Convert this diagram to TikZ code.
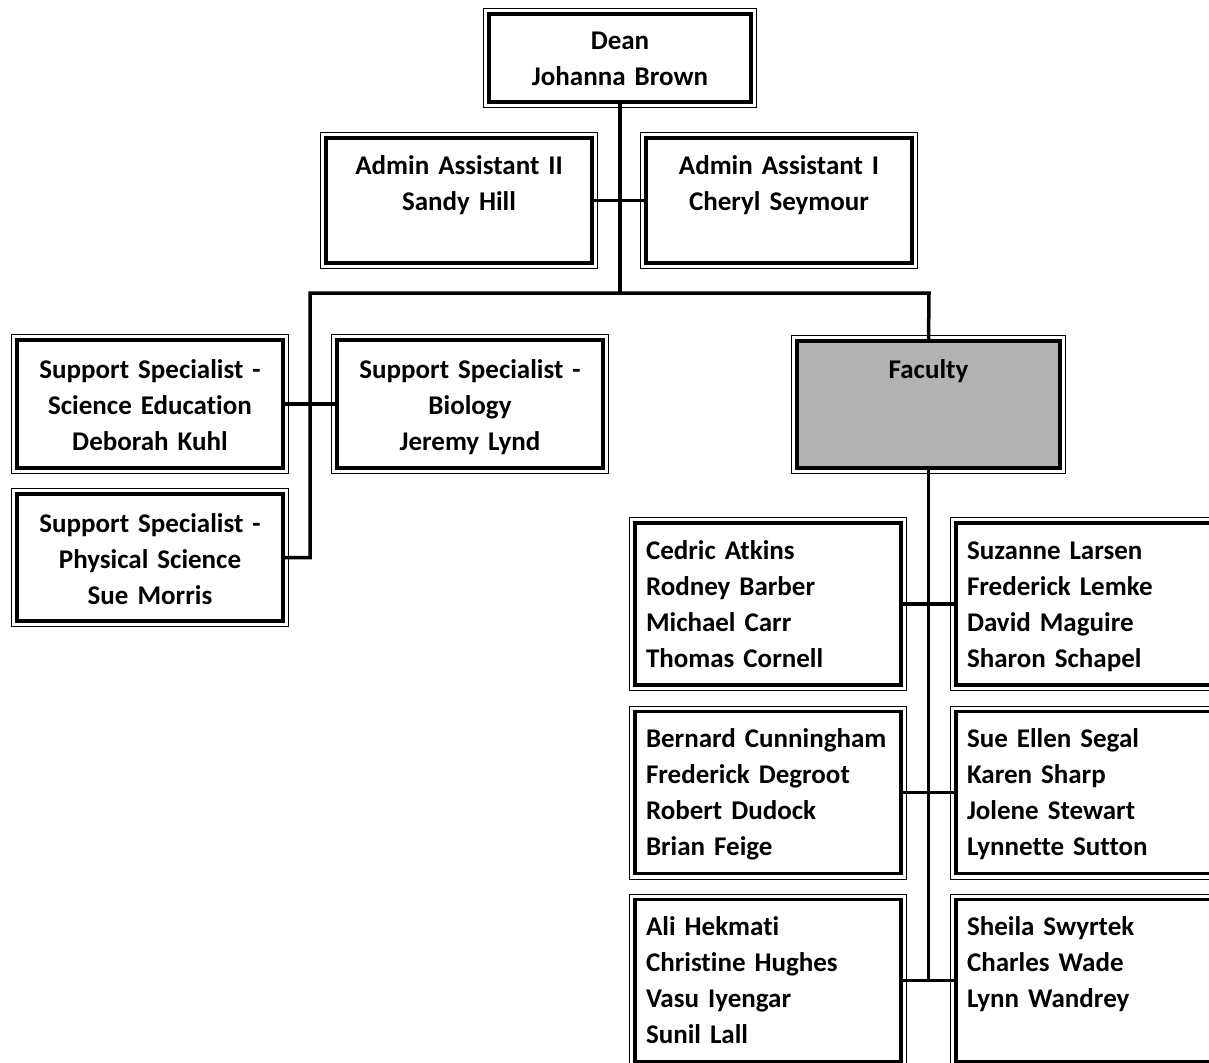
\documentclass[tikz,border=0pt]{standalone}
\usepackage{fontspec}
\setmainfont{Carlito}[Ligatures=NoCommon]
\usetikzlibrary{calc}
\usetikzlibrary{positioning}

\tikzset{
  post/.style={draw, line width=3.5pt, outer sep=0pt, inner ysep=0pt,
    inner xsep=11pt, text width=244pt,
    font=\bfseries\fontsize{27}{36}\selectfont, text height=36pt},
  link/.style={line width=3.5pt, line join=miter},
  frame/.style={line width=1pt},
}

\begin{document}
\begin{tikzpicture}[x=1pt,y=-1pt]
  \useasboundingbox (0,0) rectangle (1209,1062);
  \clip (0,0) rectangle (1209,1062);

  \node[post, text width=240pt, align=center, text depth=52pt] (dean) at (620,58) {Dean\\Johanna Brown};
  \node[post, align=center, text depth=89pt] (ast2) at (459,200.5) {Admin Assistant II\\Sandy Hill};
  \node[post, align=center, text depth=89pt] (ast1) at (779,200.5) {Admin Assistant I\\Cheryl Seymour};
  \node[post, align=center, text height=38pt, text depth=90pt] (scied) at (150,404) {Support Specialist -\\Science Education\\Deborah Kuhl};
  \node[post, align=center, text height=38pt, text depth=90pt] (bio) at (470,404) {Support Specialist -\\Biology\\Jeremy Lynd};
  \node[post, align=center, text height=38pt, text depth=89pt] (phys) at (150,557.5) {Support Specialist -\\Physical Science\\Sue Morris};
  \node[post, fill=black!30, text width=241pt, align=center, text height=37pt, text depth=90pt] (fac) at (928.5,404.5) {Faculty};

  \foreach \r/\y/\lnames/\rnames in {
    1/604/{Cedric Atkins\\Rodney Barber\\Michael Carr\\Thomas Cornell}/{Suzanne Larsen\\Frederick Lemke\\David Maguire\\Sharon Schapel},
    2/792.5/{Bernard Cunningham\\Frederick Degroot\\Robert Dudock\\Brian Feige}/{Sue Ellen Segal\\Karen Sharp\\Jolene Stewart\\Lynnette Sutton},
    3/980.5/{Ali Hekmati\\Christine Hughes\\Vasu Iyengar\\Sunil Lall}/{Sheila Swyrtek\\Charles Wade\\Lynn Wandrey}}{
    \node[post, align=left, text depth=126pt] (f\r l) at (768,\y) {\lnames};
    \node[post, align=left, text depth=126pt] (f\r r) at (1089,\y) {\rnames};
    \draw[link] (f\r l.east) -- (f\r r.west);
  }

  \foreach \n in {dean,ast2,ast1,scied,bio,phys,fac,f1l,f1r,f2l,f2r,f3l,f3r}{
    \draw[frame] ([xshift=-5.5pt,yshift=5.5pt]\n.north west) rectangle ([xshift=5.5pt,yshift=-5.5pt]\n.south east);
  }

  \coordinate (busl) at (310,293);
  \coordinate (busr) at (929,293);
  \draw[link] (dean.south) -- (dean.south |- busl);
  \draw[link] (ast2.east) -- (ast1.west);
  \draw[link] (phys.east) -| (busl) -- (busr) -- (fac.north);
  \draw[link] (scied.east) -- (bio.west);
  \draw[link] (fac.south) -- (fac.south |- f3l.east);
\end{tikzpicture}
\end{document}
